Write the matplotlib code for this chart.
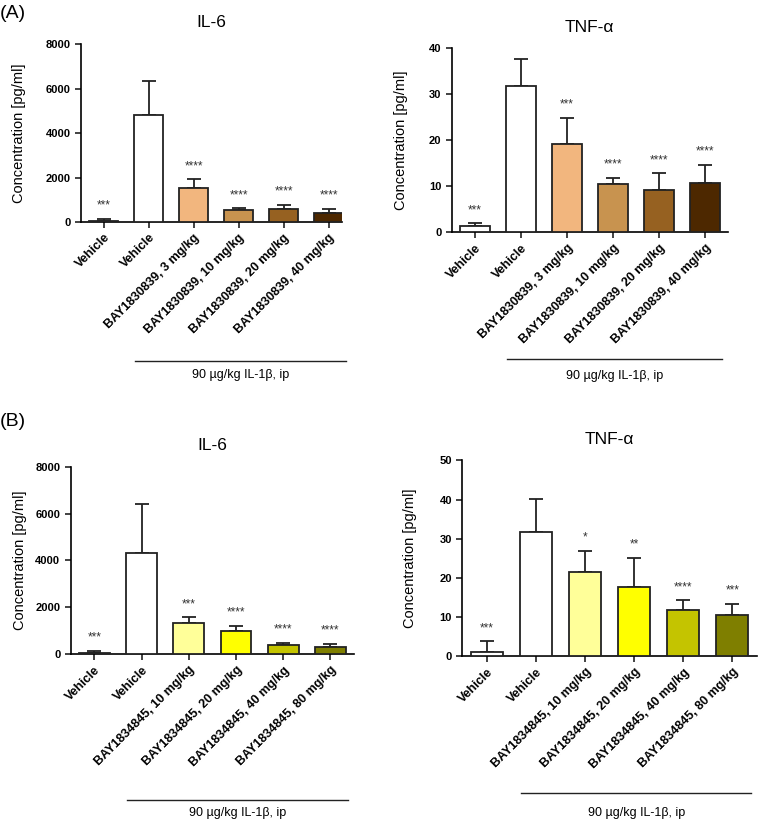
import matplotlib
matplotlib.use('Agg')
import matplotlib.pyplot as plt
import matplotlib.transforms as mtransforms

plt.rcParams['font.family'] = ['Liberation Sans', 'DejaVu Sans']

# group labels
groups_a = ['Vehicle', 'Vehicle', 'BAY1830839, 3 mg/kg', 'BAY1830839, 10 mg/kg',
            'BAY1830839, 20 mg/kg', 'BAY1830839, 40 mg/kg']
groups_b = ['Vehicle', 'Vehicle', 'BAY1834845, 10 mg/kg', 'BAY1834845, 20 mg/kg',
            'BAY1834845, 40 mg/kg', 'BAY1834845, 80 mg/kg']

# (A) BAY1830839
il6_a = [30, 4800, 1525, 525, 570, 390]
il6_a_err = [120, 1555, 400, 90, 195, 210]
il6_a_sig = ['***', '', '****', '****', '****', '****']
tnf_a = [1.4, 31.8, 19.1, 10.5, 9.1, 10.7]
tnf_a_err = [0.55, 5.8, 5.8, 1.4, 3.7, 3.9]
tnf_a_sig = ['***', '', '***', '****', '****', '****']

# (B) BAY1834845
il6_b = [45, 4310, 1340, 1000, 410, 330]
il6_b_err = [110, 2085, 240, 225, 85, 110]
il6_b_sig = ['***', '', '***', '****', '****', '****']
tnf_b = [1.0, 31.6, 21.5, 17.8, 11.8, 10.6]
tnf_b_err = [2.8, 8.45, 5.4, 7.3, 2.5, 2.75]
tnf_b_sig = ['***', '', '*', '**', '****', '***']

colors_a = ['white', 'white', '#F2B67E', '#C8934F', '#966121', '#4D2800']
colors_b = ['white', 'white', '#FFFF99', '#FFFF00', '#C4C400', '#7F7F00']

treatment = '90 µg/kg IL-1β, ip'


def panel(ax, labels, vals, errs, sig, colors, title, ymax, ystep, xright,
          line_y, text_y, lab_x):
    x = list(range(len(vals)))
    ax.bar(x, vals, width=0.65, color=colors, edgecolor='#222222', linewidth=1.3, zorder=3)
    ax.errorbar(x, vals, yerr=[[0] * len(vals), errs], fmt='none', ecolor='#222222',
                elinewidth=1.3, capsize=5, capthick=1.3, zorder=2)
    for xi, v, e, s in zip(x, vals, errs, sig):
        if s:
            ax.annotate(s, (xi, v + e), xytext=(0, 9.5), textcoords='offset points',
                        ha='center', va='center', fontsize=8.5, color='#333333')
    ax.set_xlim(-0.5, xright)
    ax.set_ylim(0, ymax)
    ax.set_yticks(range(0, ymax + 1, ystep))
    ax.set_xticks(x)
    ax.set_xticklabels(labels, rotation=45, ha='right', rotation_mode='anchor',
                       fontsize=9, fontweight='bold')
    for t in ax.get_yticklabels():
        t.set_fontweight('bold')
        t.set_fontsize(8)
    ax.tick_params(axis='both', direction='out', length=4, width=1.2, color='#222222')
    ax.tick_params(axis='x', pad=3)
    ax.spines['top'].set_visible(False)
    ax.spines['right'].set_visible(False)
    ax.spines['left'].set_linewidth(1.2)
    ax.spines['bottom'].set_linewidth(1.2)
    ax.set_ylabel('Concentration [pg/ml]', fontsize=10.5)
    ax.yaxis.set_label_coords(lab_x, 0.5)
    ax.set_title(title, fontsize=12.5, pad=12)

    trans = mtransforms.blended_transform_factory(ax.transData, ax.transAxes)
    ax.plot([0.7, 5.38], [line_y, line_y], color='#222222', lw=1.0,
            transform=trans, clip_on=False)
    ax.text(3.04, text_y, treatment, transform=trans, ha='center', va='center',
            fontsize=9)


fig = plt.figure(figsize=(7.58, 8.21), dpi=100)

ax1 = fig.add_axes([0.1069, 0.7296, 0.3443, 0.2168])
panel(ax1, groups_a, il6_a, il6_a_err, il6_a_sig, colors_a, 'IL-6', 8000, 2000, 5.3,
      -0.78, -0.86, -0.21)

ax2 = fig.add_axes([0.5959, 0.7171, 0.3645, 0.2241])
panel(ax2, groups_a, tnf_a, tnf_a_err, tnf_a_sig, colors_a, 'TNF-α', 40, 10, 5.5,
      -0.69, -0.78, -0.157)

ax3 = fig.add_axes([0.0933, 0.2030, 0.3737, 0.2286])
panel(ax3, groups_b, il6_b, il6_b_err, il6_b_sig, colors_b, 'IL-6', 8000, 2000, 5.5,
      -0.777, -0.845, -0.154)

ax4 = fig.add_axes([0.6099, 0.2006, 0.3888, 0.2387])
panel(ax4, groups_b, tnf_b, tnf_b_err, tnf_b_sig, colors_b, 'TNF-α', 50, 10, 5.5,
      -0.70, -0.80, -0.153)

fig.text(0.0, 0.983, '(A)', fontsize=14, va='center', ha='left')
fig.text(0.0, 0.486, '(B)', fontsize=14, va='center', ha='left')

fig.savefig('out.png', dpi=100)
